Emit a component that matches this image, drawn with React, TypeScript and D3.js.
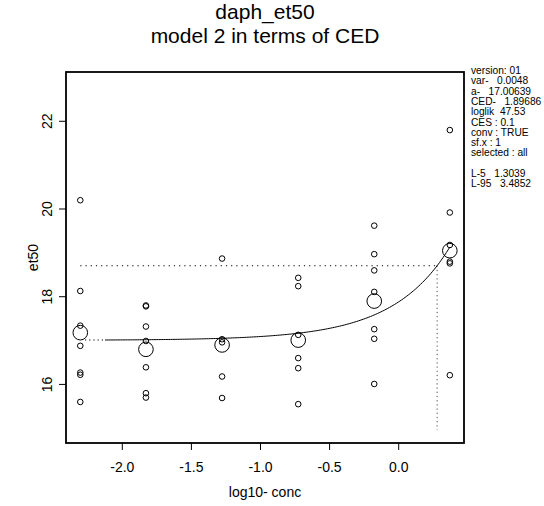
import React from "react";
import * as d3 from "d3";

// ---- data ----
const doseLog: number[] = [-2.304, -1.829, -1.278, -0.727, -0.177, 0.37];
const obsG1: number[] = [20.2, 18.13, 17.34, 16.88, 16.27, 16.22, 15.6];
const obsG2: number[] = [17.8, 17.78, 17.32, 16.99, 16.39, 15.8, 15.7];
const obsG3: number[] = [18.87, 17.03, 16.96, 16.18, 15.69];
const obsG4: number[] = [18.43, 18.24, 17.13, 16.6, 16.37, 15.55];
const obsG5: number[] = [19.62, 18.97, 18.6, 18.11, 17.26, 17.04, 16.01];
const obsG6: number[] = [21.8, 19.92, 19.18, 18.8, 18.76, 16.21];
const groupMeans: number[] = [17.18, 16.8, 16.9, 17.01, 17.9, 19.05];

const xTicks: number[] = [-2.0, -1.5, -1.0, -0.5, 0.0];
const yTicks: number[] = [16, 18, 20, 22];

// model 2: y = a * (1 + CES)^(conc / CED)
const paramA = 17.00639;
const paramCED = 1.89686;
const paramCES = 0.1;
const curveStartLog = -2.125;
const curveDottedStartLog = -2.27;
const cedLineBottom = 14.96;

const infoLines: string[] = [
  "version: 01",
  "var-   0.0048",
  "a-   17.00639",
  "CED-   1.89686",
  "loglik  47.53",
  "CES : 0.1",
  "conv : TRUE",
  "sf.x : 1",
  "selected : all",
  "",
  "L-5   1.3039",
  "L-95   3.4852",
];

const titleLines: string[] = ["daph_et50", "model 2 in terms of CED"];
const xLabel = "log10- conc";
const yLabel = "et50";

const FONT = "'Liberation Sans', Arial, Helvetica, sans-serif";

export default function App() {
  const W = 544;
  const H = 506;
  const left = 66, right = 464, top = 72, bottom = 443;

  const x = d3.scaleLinear().domain([-2.4074, 0.4725]).range([left, right]);
  const y = d3.scaleLinear().domain([14.664, 23.124]).range([bottom, top]);

  const groups = [obsG1, obsG2, obsG3, obsG4, obsG5, obsG6];
  const model = (lx: number) => paramA * Math.pow(1 + paramCES, Math.pow(10, lx) / paramCED);

  const curvePts: [number, number][] = d3
    .range(0, 201)
    .map((i) => curveStartLog + (i / 200) * (doseLog[5] - curveStartLog))
    .map((lx) => [lx, model(lx)]);
  const line = d3
    .line<[number, number]>()
    .x((d) => x(d[0]))
    .y((d) => y(d[1]));

  const cedY = paramA * (1 + paramCES);
  const cedX = Math.log10(paramCED);

  return (
    <svg
      width={W}
      height={H}
      style={{ position: "absolute", left: 0, top: 0, background: "#fff" }}
      fontFamily={FONT}
    >
      <rect x={0} y={0} width={W} height={H} fill="#fff" />
      {/* title */}
      <text x={(left + right) / 2} y={18.5} fontSize={21} textAnchor="middle" fill="#000">
        {titleLines[0]}
      </text>
      <text x={(left + right) / 2} y={42.5} fontSize={21} textAnchor="middle" fill="#000">
        {titleLines[1]}
      </text>

      {/* observations */}
      {groups.map((g, gi) =>
        g.map((v, i) => (
          <circle
            key={`p${gi}-${i}`}
            cx={x(doseLog[gi])}
            cy={y(v)}
            r={2.8}
            fill="none"
            stroke="#000"
            strokeWidth={1}
          />
        ))
      )}
      {groupMeans.map((m, gi) => (
        <circle
          key={`m${gi}`}
          cx={x(doseLog[gi])}
          cy={y(m)}
          r={7.3}
          fill="none"
          stroke="#000"
          strokeWidth={1}
        />
      ))}

      {/* fitted curve */}
      <path d={line(curvePts) || ""} fill="none" stroke="#000" strokeWidth={1} />
      <line
        x1={x(curveDottedStartLog)}
        x2={x(curveStartLog)}
        y1={y(model(curveStartLog))}
        y2={y(model(curveStartLog))}
        stroke="#000"
        strokeWidth={1.2}
        strokeDasharray="1.2,3"
      />

      {/* CED lines */}
      <line
        x1={x(doseLog[0])}
        x2={x(cedX)}
        y1={y(cedY)}
        y2={y(cedY)}
        stroke="#000"
        strokeWidth={1.1}
        strokeDasharray="1.2,4"
      />
      <line
        x1={x(cedX)}
        x2={x(cedX)}
        y1={y(cedY)}
        y2={y(cedLineBottom)}
        stroke="#000"
        strokeWidth={1}
        strokeDasharray="1.2,3"
        opacity={0.7}
      />

      {/* box */}
      <rect
        x={left}
        y={top}
        width={right - left}
        height={bottom - top}
        fill="none"
        stroke="#000"
        strokeWidth={1.8}
      />

      {/* x axis */}
      {xTicks.map((t) => (
        <g key={`xt${t}`}>
          <line x1={x(t)} x2={x(t)} y1={bottom} y2={bottom + 7} stroke="#000" strokeWidth={1} />
          <text x={x(t)} y={bottom + 29} fontSize={14} textAnchor="middle" fill="#000">
            {t.toFixed(1)}
          </text>
        </g>
      ))}
      <text x={(left + right) / 2} y={497} fontSize={14} textAnchor="middle" fill="#000">
        {xLabel}
      </text>

      {/* y axis */}
      {yTicks.map((t) => (
        <g key={`yt${t}`}>
          <line x1={left} x2={left - 7} y1={y(t)} y2={y(t)} stroke="#000" strokeWidth={1} />
          <text
            transform={`translate(${left - 14},${y(t)}) rotate(-90)`}
            fontSize={14}
            textAnchor="middle"
            fill="#000"
          >
            {t}
          </text>
        </g>
      ))}
      <text
        transform={`translate(38,${(top + bottom) / 2}) rotate(-90)`}
        fontSize={14}
        textAnchor="middle"
        fill="#000"
      >
        {yLabel}
      </text>

      {/* info panel */}
      {infoLines.map((s, i) => (
        <text
          key={`info${i}`}
          x={471}
          y={74 + i * 10.3}
          fontSize={10.2}
          fill="#000"
          style={{ whiteSpace: "pre" }}
        >
          {s}
        </text>
      ))}
    </svg>
  );
}
